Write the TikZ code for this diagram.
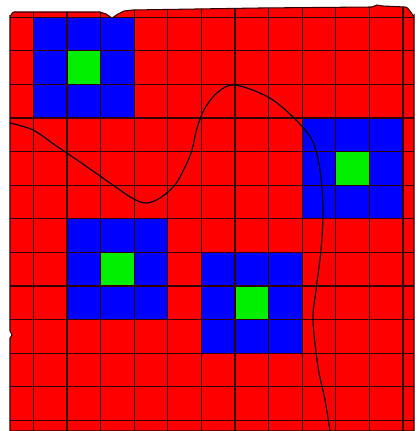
\documentclass[tikz,border=0pt]{standalone}
\usetikzlibrary{calc}
\definecolor{cellred}{RGB}{255,0,0}
\definecolor{blockblue}{RGB}{0,0,255}
\definecolor{coregreen}{RGB}{0,240,0}
\newcommand{\plateoutline}{(10,431) -- (10,338) -- (12,335) -- (10,331) -- (10,16)
  to[out=-90,in=180] (14,12) -- (100,12) -- (106,14) -- (112,18) -- (118,14)
  -- (124,11) -- (133,10) -- (260,8) -- (372,7) -- (377,5) -- (383,6) -- (405,7)
  to[out=0,in=-90] (414,15) -- (414,431) -- cycle}

\begin{document}
\begin{tikzpicture}[x=0.03cm,y=-0.03cm,
    gridline/.style={black!80!red,line width=0.9pt},
    front/.style={black,line width=1pt,line cap=round}]
  \useasboundingbox (0,0) rectangle (417,431);
  %% red plate
  \fill[cellred] \plateoutline;
  %% blue blocks, green cores
  \foreach \c/\r in {0/0,8/3,1/6,5/7}{
    \fill[blockblue] ({33.4+33.6*\c},{17.2+33.6*\r}) rectangle ++(100.8,100.8);
    \fill[coregreen] ({67+33.6*\c},{50.8+33.6*\r}) rectangle ++(33.6,33.6);
  }
  %% grid
  \begin{scope}
    \clip \plateoutline;
    \foreach \i in {0,...,11}
      \draw[gridline] ({33.4+33.6*\i},0) -- ++(0,431);
    \foreach \j in {0,...,12}
      \draw[gridline] (0,{17.2+33.6*\j}) -- ++(417,0);
  \end{scope}
  \draw[gridline] \plateoutline;
  %% front line
  \draw[front] plot[smooth,tension=0.55] coordinates {(10,123) (33,130) (55,145)
    (80,162) (110,183) (132,198) (146,203) (160,198) (175,185) (185,167)
    (192,150) (197,128) (205,108) (218,92) (235,85) (268,97) (293,117)
    (312,140) (320,170) (323,210) (321,250) (316,290) (313,320) (318,367)
    (325,400) (330,431)};
\end{tikzpicture}
\end{document}
